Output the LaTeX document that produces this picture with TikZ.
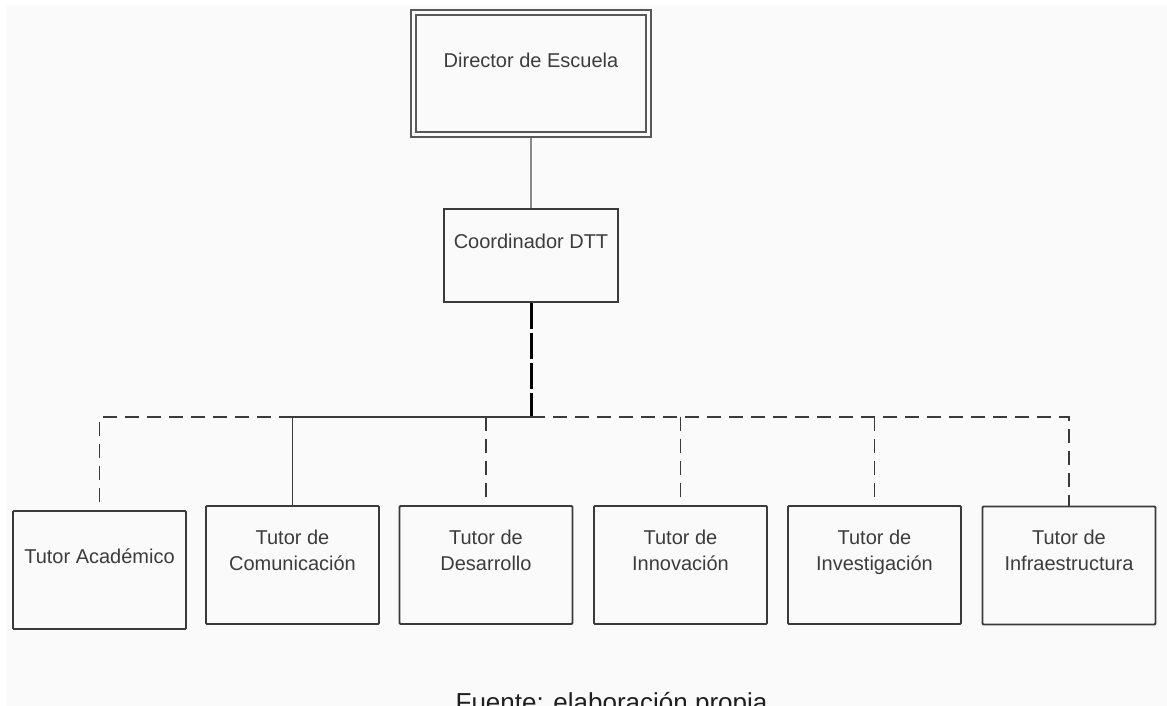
\documentclass[tikz,border=0pt]{standalone}
\usepackage{fontspec}
\setmainfont{Liberation Sans}
\definecolor{boxline}{HTML}{3A3A3A}
\definecolor{txt}{HTML}{3C3C3C}
\definecolor{linkgray}{HTML}{8A8A8A}
\definecolor{paper}{HTML}{FAFAFA}
\begin{document}
\begin{tikzpicture}[x=1pt,y=-1pt,
  unitbox/.style={draw=boxline, line width=1.8pt, rounded corners=1pt,
    minimum width=173pt, minimum height=118pt, inner sep=0pt},
  boxtext/.style={anchor=base, align=center, text=txt, inner sep=0pt,
    font=\fontsize{20}{26}\selectfont},
  solidlink/.style={draw=boxline, line width=1.8pt},
  dashlink/.style={draw=boxline, line width=1.8pt, dash pattern=on 14pt off 8pt},
  heavylink/.style={draw=black, line width=3pt, dash pattern=on 26pt off 4pt}]
\useasboundingbox (0,0) rectangle (1167,706);
\clip (0,0) rectangle (1167,706);
\fill[paper] (7,5) rectangle (1167,706);

% top of the chart
\node[draw=boxline!85, line width=1.6pt, minimum width=240pt, minimum height=127pt,
  inner sep=0pt] (dir) at (531,73.5) {};
\node[draw=boxline!85, line width=1.6pt, minimum width=230pt, minimum height=117pt,
  inner sep=0pt] (dirin) at (531,73.5) {};
\node[boxtext] (dirt) at (531,68) {Director de Escuela};

\node[draw=boxline, line width=1.8pt, minimum width=174pt, minimum height=93pt,
  inner sep=0pt] (coord) at (531,255.5) {};
\node[boxtext] (coordt) at (531,248) {Coordinador DTT};

\draw[draw=linkgray, line width=1.5pt] (dir.south) -- (coord.north);

% tutors
\node[unitbox] (t1) at (99.5,570) {};
\node[unitbox] (t2) at (292.5,565) {};
\node[unitbox] (t3) at (486,565) {};
\node[unitbox] (t4) at (680.5,565) {};
\node[unitbox] (t5) at (874.5,565) {};
\node[unitbox] (t6) at (1069,565.5) {};

% multi-line labels sit on the baseline of their last line
\node[boxtext] (t1t) at (99.5,563) {Tutor Académico};
\node[boxtext] (t2t) at (292.5,570) {Tutor de\\Comunicación};
\node[boxtext] (t3t) at (486,570) {Tutor de\\Desarrollo};
\node[boxtext] (t4t) at (680.5,570) {Tutor de\\Innovación};
\node[boxtext] (t5t) at (874.5,570) {Tutor de\\Investigación};
\node[boxtext] (t6t) at (1069,570) {Tutor de\\Infraestructura};

% distribution bus
\coordinate (hub) at (531,417);
\coordinate (b1) at (t1.north |- hub);
\coordinate (b2) at (t2.north |- hub);
\coordinate (b3) at (t3.north |- hub);
\coordinate (b4) at (t4.north |- hub);
\coordinate (b5) at (t5.north |- hub);
\coordinate (b6) at (t6.north |- hub);

\draw[heavylink] (coord.south) -- (hub);
\draw[solidlink] (b2) -- (hub);
\draw[dashlink] (b2) -- (b1) -- (t1.north);
\draw[dashlink] (hub) -- (b6) -- (t6.north);
\draw[solidlink] (b2) -- (t2.north);
\draw[dashlink] (b3) -- (t3.north);
\draw[dashlink] (b4) -- (t4.north);
\draw[dashlink] (b5) -- (t5.north);

% source line
\node[anchor=base, inner sep=0pt, text=black!88, font=\fontsize{26}{30}\selectfont]
  (src) at (611.5,711) {Fuente: elaboración propia};
\end{tikzpicture}
\end{document}
